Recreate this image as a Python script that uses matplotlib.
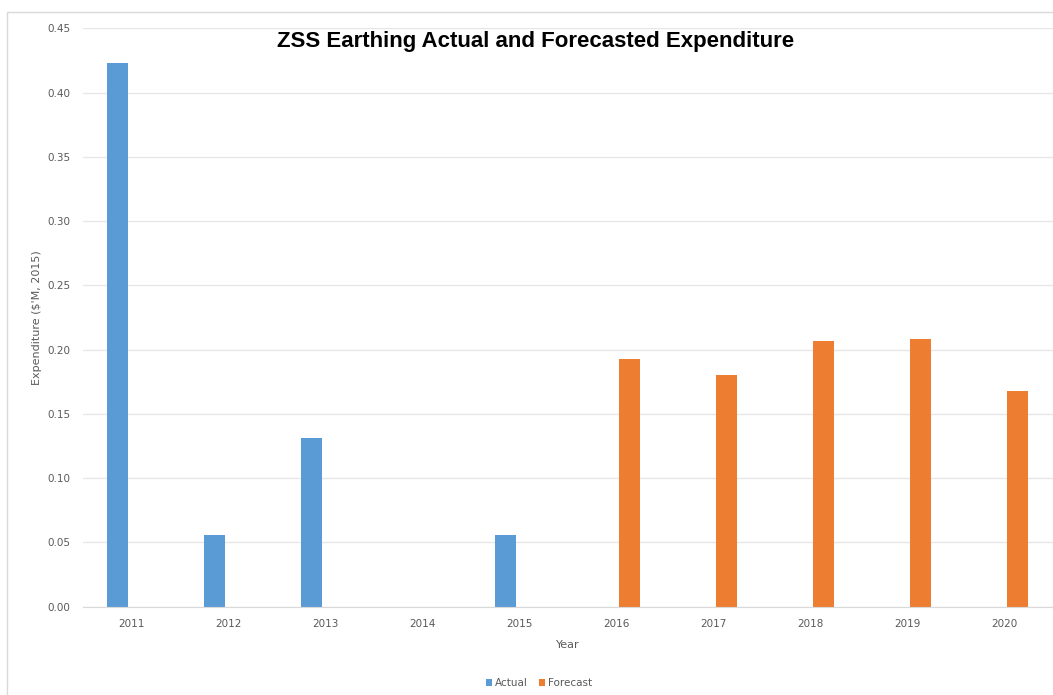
import numpy as np
import matplotlib
matplotlib.use("Agg")
import matplotlib.pyplot as plt
from matplotlib.patches import Rectangle

years = ["2011", "2012", "2013", "2014", "2015", "2016", "2017", "2018", "2019", "2020"]
actual = [0.423, 0.056, 0.131, 0.0, 0.056, 0.0, 0.0, 0.0, 0.0, 0.0]
forecast = [0.0, 0.0, 0.0, 0.0, 0.0, 0.193, 0.180, 0.207, 0.208, 0.168]
yticks = [0.00, 0.05, 0.10, 0.15, 0.20, 0.25, 0.30, 0.35, 0.40, 0.45]

blue = "#5B9BD5"
orange = "#ED7D31"
grey = "#595959"

W, H = 1053, 695
fig = plt.figure(figsize=(W / 100, H / 100), dpi=100)

# chart frame (cropped on right and bottom)
fig.add_artist(Rectangle((7 / W, -0.1), 1.2, 1 - 12 / H + 0.1, transform=fig.transFigure,
                         fill=False, edgecolor="#D9D9D9", linewidth=1.0))

ax = fig.add_axes([82.5 / W, (H - 606.7) / H, 970 / W, 578.4 / H])
x = np.arange(len(years))
bw = 0.217
off = 0.144
ax.bar(x - off, actual, width=bw, color=blue, label="Actual")
ax.bar(x + off, forecast, width=bw, color=orange, label="Forecast")

ax.set_xlim(-0.5, len(years) - 0.5)
ax.set_ylim(0, 0.45)
ax.set_yticks(yticks)
ax.set_yticklabels(["%.2f" % v for v in yticks])
ax.set_xticks(x)
ax.set_xticklabels(years)
ax.tick_params(axis="both", length=0, labelsize=7.5, labelcolor=grey)
ax.tick_params(axis="y", pad=8.5)
ax.tick_params(axis="x", pad=9)
ax.grid(axis="y", color="#E6E6E6", linewidth=1.0)
ax.set_axisbelow(True)
for s in ["top", "right", "left"]:
    ax.spines[s].set_visible(False)
ax.spines["bottom"].set_color("#D9D9D9")

ax.set_xlabel("Year", fontsize=8, color=grey, labelpad=8)
ax.set_ylabel("Expenditure ($'M, 2015)", fontsize=8, color=grey, labelpad=4)

fig.text(535.5 / W, 1 - 42 / H, "ZSS Earthing Actual and Forecasted Expenditure",
         ha="center", va="center", fontsize=16, fontweight="bold",
         family="Liberation Sans", color="black")

ax.legend(loc="center", bbox_to_anchor=((539 - 82.5) / 970, -(683 - 606.7) / 578.4), ncol=2,
          frameon=False, fontsize=7.5, labelcolor=grey, handlelength=0.6, handleheight=0.6,
          handletextpad=0.3, columnspacing=1.0)

fig.savefig("out.png", dpi=100)
